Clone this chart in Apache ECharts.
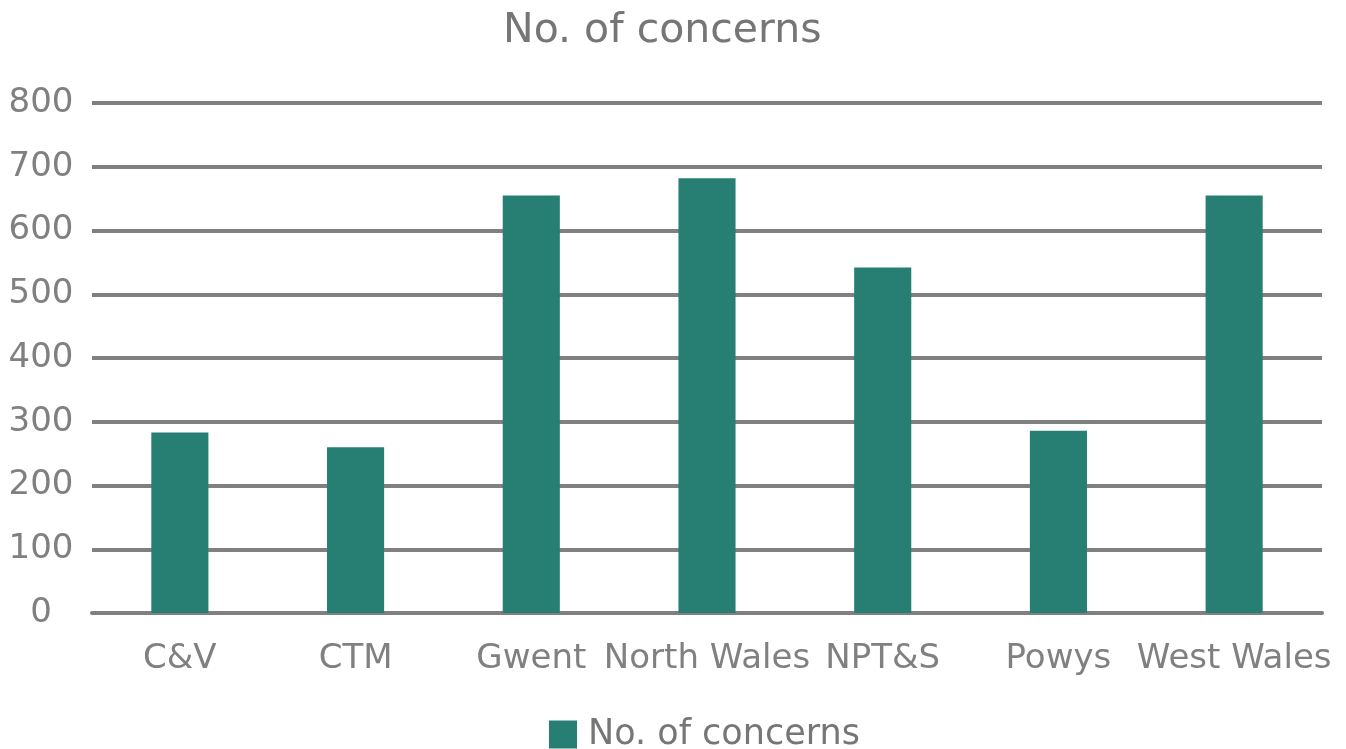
<!DOCTYPE html>
<html><head><meta charset="utf-8">
<script src="https://cdn.jsdelivr.net/npm/echarts@6/dist/echarts.min.js"></script>
<style>html,body{margin:0;padding:0;background:#fff}#c{width:1346px;height:749px}</style>
</head><body><div id="c"></div>
<script>
const categories = ["C&V", "CTM", "Gwent", "North Wales", "NPT&S", "Powys", "West Wales"];
const concerns = [283, 260, 655, 682, 542, 286, 655];
const seriesName = "No. of concerns";
const FONT = "DejaVu Sans";
const chart = echarts.init(document.getElementById('c'));
chart.setOption({
  animation: false,
  title: { text: "No. of concerns", left: 498, top: 6,
    textStyle: { fontFamily: FONT, fontSize: 41, fontWeight: 'normal', color: '#767676' } },
  legend: { top: 717, left: 549, padding: 0, itemWidth: 28, itemHeight: 28, itemGap: 10,
    icon: 'rect',
    textStyle: { fontFamily: FONT, fontSize: 35, color: '#767676', padding: [0, 0, 0, 6] } },
  grid: { left: 92, right: 24, top: 103, bottom: 136, containLabel: false },
  xAxis: { type: 'category', data: categories,
    axisLine: { show: true, lineStyle: { color: '#808080', width: 4 } },
    axisTick: { show: false },
    axisLabel: { fontFamily: FONT, fontSize: 34, color: '#808080', margin: 29, interval: 0 } },
  yAxis: { type: 'value', min: 0, max: 800, interval: 100,
    axisLine: { show: false }, axisTick: { show: false },
    splitLine: { lineStyle: { color: '#808080', width: 4 } },
    axisLabel: { fontFamily: FONT, fontSize: 34, color: '#808080', align: 'center', margin: 51, padding: [4, 0, 0, 0] } },
  series: [{ name: seriesName, type: 'bar', data: concerns, barWidth: '32.5%',
    itemStyle: { color: '#277F73' } }]
});
</script></body></html>
